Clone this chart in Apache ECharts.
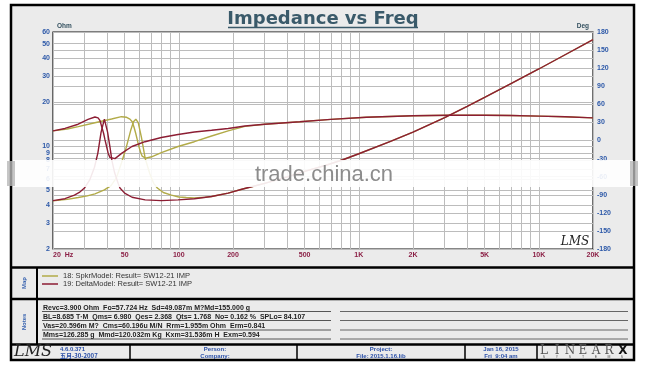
<!DOCTYPE html>
<html><head><meta charset="utf-8">
<script src="https://cdn.jsdelivr.net/npm/echarts@6/dist/echarts.min.js"></script>
<style>html,body{margin:0;padding:0;background:#fff}#c{width:647px;height:367px}</style>
</head><body><div id="c"></div>
<script>
// ---------- data ----------
const spkrImpFreq = [20,24,27.6,31,34.2,38.6,42,45,48,51,54,56,57.7,59.5,62,65,69,72.5,76,82,91,100,110,122,140,152,170,188,205,224,260,300,400,500,650,816,1000,1500,2000,3000,4000,5000,7000,10000,14000,20000];
const spkrImp     = [4.25,4.35,4.48,4.6,4.75,5.05,5.4,6.1,7.7,9.8,12.8,14.7,15.3,14.5,11.5,8.3,6.5,5.6,5.2,4.85,4.65,4.52,4.48,4.45,4.5,4.55,4.68,4.8,4.95,5.1,5.35,5.6,6.2,6.75,7.4,8.1,8.9,10.8,12.5,15.7,18.7,21.5,26.7,33.6,42,53.2];
const spkrPhaseFreq = [20,24,27.6,34.2,42.3,48,51.3,53.5,55.1,56.4,57.6,58.8,60,61.3,62.6,65.3,70.6,80,99,122,152,188,233,300,470,700,1100,2000,3200,5000,7000,10000,14000,20000];
const spkrPhase     = [16,19,23,29.5,35.7,39.5,38.5,35.5,31,22,12,1,-10,-19,-26,-29.5,-27,-20,-10,-2,7.5,16,23.5,27,31,35,38.5,41,42,42,41.5,40.5,39.5,37.5];
const deltaImpFreq = [20,23.3,26.3,28,29.9,32,34,35.5,37,38.6,40.2,41.5,42.5,44,46,47.1,50,55,65,80,99,122,152,188,224,260,300,400,500,650,816,1000,1500,2000,3000,4000,5000,7000,10000,14000,20000];
const deltaImp     = [4.27,4.4,4.66,4.85,5.2,5.9,7.2,9.0,12.5,15.3,12.5,9.8,8.0,6.6,5.6,5.2,4.8,4.5,4.32,4.27,4.32,4.4,4.55,4.8,5.1,5.35,5.6,6.2,6.75,7.4,8.1,8.9,10.8,12.5,15.7,18.7,21.5,26.7,33.6,42,53.2];
const deltaPhaseFreq = [20,23.3,27.6,31.3,34.2,35.6,36.5,37.2,38.2,38.9,39.7,40.5,41.4,42.3,44.2,48.3,54.9,64.9,80,99,122,152,188,233,300,470,700,1100,2000,3200,5000,7000,10000,14000,20000];
const deltaPhase     = [16,20,27,35,39,37.5,33,24,12,1,-10,-21,-28,-31,-30,-21,-10,-2,5,10,14,17,20,24,27,31,35,38.5,41,42,42,41.5,40.5,39.5,37.5];

const xGridFreqs = [20,30,40,50,60,70,80,90,100,200,300,400,500,600,700,800,900,1000,2000,3000,4000,5000,6000,7000,8000,9000,10000,20000];
const xTickFreqs  = [20,50,100,200,500,1000,2000,5000,10000,20000];
const xTickLabels = ['20  Hz','50','100','200','500','1K','2K','5K','10K','20K'];
const ohmGridValues = [2,3,4,5,6,7,8,9,10,20,30,40,50,60];
const ohmTickLabels = ['2','3','4','5','6','7','8','9','10','20','30','40','50','60'];
const seriesNames = ['18: SpkrModel: Result= SW12-21 IMP','19: DeltaModel: Result= SW12-21 IMP'];
const notesLines = [
  'Revc=3.900 Ohm  Fo=57.724 Hz  Sd=49.087m M?Md=155.000 g',
  'BL=8.685 T·M  Qms= 6.980  Qes= 2.368  Qts= 1.768  No= 0.162 %  SPLo= 84.107',
  'Vas=20.596m M?  Cms=60.196u M/N  Rrm=1.955m Ohm  Erm=0.841',
  'Mms=126.285 g  Mmd=120.032m Kg  Kxm=31.536m H  Exm=0.594'
];
// ---------- styles ----------
const OLIVE = '#b2ab48', RED = '#8c1d33';
const GRIDC = '#bcbcbc';
const FONT = '"Liberation Sans", Arial, sans-serif';

const pair = (fs, vs) => fs.map((f, i) => [f, vs[i]]);

const vLines = xGridFreqs.map(f => {
  const k = xTickFreqs.indexOf(f);
  return {
    xAxis: f, name: k >= 0 ? xTickLabels[k] : '',
    label: k >= 0 ? {show: true, color: '#8b1f45', fontSize: 7, fontWeight: 'bold', fontFamily: FONT,
      distance: 3, align: f === 20 ? 'left' : 'center'} : {show: false}
  };
});
const hLines = ohmGridValues.map((v, i) => ({
  yAxis: v, name: ohmTickLabels[i],
  label: {show: true, color: '#2c58a8', fontSize: 7, fontWeight: 'bold', fontFamily: FONT, distance: 3}
}));

const G = [];
const line = (x1, y1, x2, y2, w, c) => G.push({type: 'line', z: -4, silent: true,
  shape: {x1, y1, x2, y2}, style: {stroke: c || '#000', lineWidth: w}});
const text = (x, y, t, font, fill, align, extra) => G.push(Object.assign({type: 'text', z: 5, silent: true, x, y,
  style: {text: t, font, fill, align: align || 'left', verticalAlign: 'middle'}}, extra || {}));

G.push({type: 'rect', z: -5, silent: true, shape: {x: 11, y: 5, width: 623, height: 355},
  style: {fill: '#ebebeb', stroke: '#000', lineWidth: 2.5}});
line(11, 267.5, 634, 267.5, 2.5);
line(11, 299, 634, 299, 2.5);
line(11, 344.5, 634, 344.5, 2.5);
line(37, 267, 37, 344, 2);
[130, 297, 465, 537].forEach(x => line(x, 344, x, 360, 1.5));
// title
text(323, 19, 'Impedance vs Freq', 'bold 18px "DejaVu Sans", Verdana, sans-serif', '#3a5a6a', 'center');
line(228, 27.5, 418, 27.5, 1.5, '#3a5a6a');
// small LMS logo in plot
text(575, 242, 'LMS', 'italic 12px "DejaVu Serif", serif', '#222', 'center');
// side labels
text(24, 283, 'Map', 'bold 6px ' + FONT, '#3a64b0', 'center', {rotation: Math.PI / 2});
text(24, 322, 'Notes', 'bold 6px ' + FONT, '#3a64b0', 'center', {rotation: Math.PI / 2});
// notes
const noteY = [308, 317, 326.5, 335.5];
notesLines.forEach((t, i) => {
  text(43, noteY[i], t, 'bold 7px ' + FONT, '#222');
  line(42, noteY[i] + 3.5, 331, noteY[i] + 3.5, 1, '#555');
  line(340, noteY[i] + 3.5, 628, noteY[i] + 3.5, 1, '#666');
});
// footer
text(33, 352, 'LMS', 'italic 16px "DejaVu Serif", serif', '#222', 'center');
const FB = 'bold 6px ' + FONT, BLUE = '#2b50a8';
text(60, 349, '4.6.0.371', FB, BLUE);
text(60, 356, '五月-30-2007', 'bold 6px "Noto Sans CJK SC", sans-serif', BLUE);
text(215, 349, 'Person:', FB, BLUE, 'center');
text(215, 356, 'Company:', FB, BLUE, 'center');
text(381, 349, 'Project:', FB, BLUE, 'center');
text(381, 356, 'File: 2015.1.16.lib', FB, BLUE, 'center');
text(501, 349, 'Jan 16, 2015', FB, BLUE, 'center');
text(501, 356, 'Fri  9:04 am', FB, BLUE, 'center');
['L', 'I', 'N', 'E', 'A', 'R'].forEach((ch, i) => text(544 + i * 13, 351, ch, '12px "DejaVu Serif", serif', '#555', 'center'));
text(623, 351, 'X', 'bold 12px "DejaVu Sans", sans-serif', '#111', 'center');
['S', 'Y', 'S', 'T', 'E', 'M', 'S'].forEach((ch, i) => text(544 + i * 13, 357.5, ch, '3.5px ' + FONT, '#555', 'center'));
// watermark band
G.push({type: 'rect', z: 50, silent: true, shape: {x: 13, y: 160, width: 620, height: 27},
  style: {fill: '#ffffff', opacity: 0.9}});
G.push({type: 'rect', z: 50, silent: true, shape: {x: 7, y: 161, width: 8, height: 25},
  style: {fill: '#b8b8b8', opacity: 0.8}});
G.push({type: 'rect', z: 50, silent: true, shape: {x: 630, y: 161, width: 8, height: 25},
  style: {fill: '#b8b8b8', opacity: 0.8}});
G.push({type: 'text', z: 51, silent: true, x: 324, y: 175,
  style: {text: 'trade.china.cn', font: '22px "Liberation Sans", Arial, sans-serif', fill: '#8c8c8c', align: 'center', verticalAlign: 'middle'}});

const chart = echarts.init(document.getElementById('c'), null, {renderer: 'canvas'});
const baseLine = {type: 'line', symbol: 'none', smooth: false, animation: false, lineStyle: {width: 1.4}};
chart.setOption({
  animation: false,
  textStyle: {fontFamily: FONT},
  grid: {left: 53, top: 32, width: 540, height: 217, show: true, backgroundColor: '#fff', borderColor: '#111', borderWidth: 1.2},
  legend: {
    data: seriesNames, orient: 'vertical', left: 42, top: 272, padding: 0, icon: 'rect', itemWidth: 16, itemHeight: 1.5, itemGap: 0,
    selectedMode: false, textStyle: {fontSize: 7.5, color: '#333', lineHeight: 7, fontFamily: FONT}
  },
  xAxis: {type: 'log', logBase: 10, min: 20, max: 20000, axisLabel: {show: false}, axisTick: {show: false},
    axisLine: {show: false}, splitLine: {show: false}},
  yAxis: [
    {type: 'log', logBase: 10, min: 2, max: 60, axisLabel: {show: false}, axisTick: {show: false},
      axisLine: {show: false}, splitLine: {show: false},
      name: 'Ohm', nameLocation: 'end', nameGap: 2,
      nameTextStyle: {align: 'left', verticalAlign: 'bottom', fontSize: 6.5, fontWeight: 'bold', color: '#33505f', padding: [0, 0, 0, 4]}},
    {type: 'value', position: 'right', min: -180, max: 180, interval: 30,
      axisLabel: {color: '#2c58a8', fontSize: 7, fontWeight: 'bold', margin: 4},
      axisTick: {show: false}, axisLine: {show: false},
      splitLine: {show: true, lineStyle: {color: GRIDC, width: 1}},
      name: 'Deg', nameLocation: 'end', nameGap: 2,
      nameTextStyle: {align: 'right', verticalAlign: 'bottom', fontSize: 6.5, fontWeight: 'bold', color: '#33505f', padding: [0, 4, 0, 0]}}
  ],
  series: [
    Object.assign({}, baseLine, {name: seriesNames[0], yAxisIndex: 0, color: OLIVE, z: 3, data: pair(spkrImpFreq, spkrImp),
      markLine: {silent: true, symbol: ['none', 'none'], z: 1, animation: false, precision: 0,
        lineStyle: {color: GRIDC, width: 1, type: 'solid'},
        label: {position: 'start', formatter: '{b}'},
        emphasis: {disabled: true},
        data: vLines.concat(hLines)}}),
    Object.assign({}, baseLine, {name: seriesNames[0], yAxisIndex: 1, color: OLIVE, z: 3, data: pair(spkrPhaseFreq, spkrPhase)}),
    Object.assign({}, baseLine, {name: seriesNames[1], yAxisIndex: 0, color: RED, z: 4, data: pair(deltaImpFreq, deltaImp)}),
    Object.assign({}, baseLine, {name: seriesNames[1], yAxisIndex: 1, color: RED, z: 4, data: pair(deltaPhaseFreq, deltaPhase)})
  ],
  graphic: {elements: G}
});
</script></body></html>
